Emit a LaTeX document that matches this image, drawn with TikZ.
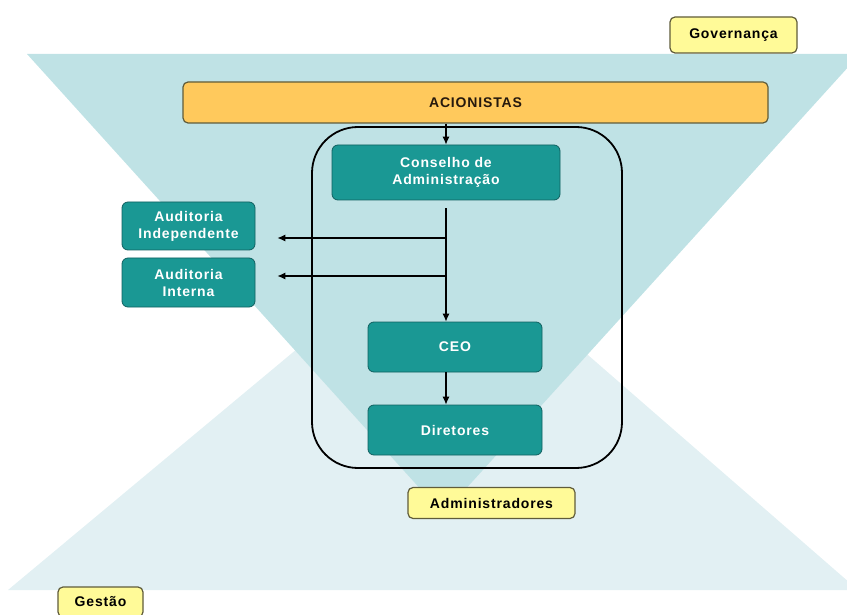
\documentclass[tikz,border=0pt]{standalone}
\usepackage{fontspec}
\setmainfont[LetterSpace=6]{Liberation Sans}
\usepackage{xcolor}
\usepackage{tikz}
\usetikzlibrary{calc, arrows.meta}
\definecolor{govfill}{RGB}{191,226,229}
\definecolor{gesfill}{RGB}{226,240,243}
\definecolor{tealbox}{RGB}{26,152,148}
\definecolor{tealline}{RGB}{16,96,96}
\definecolor{orangebox}{RGB}{255,201,92}
\definecolor{yellowbox}{RGB}{255,250,152}
\definecolor{oliveline}{RGB}{96,92,58}
\tikzset{every node/.append style={font=\bfseries\fontsize{14}{17}\selectfont}}

\begin{document}
\begin{tikzpicture}[x=1pt, y=-1pt, >={Latex[length=8pt, width=7pt]},
    orgbox/.style={draw=tealline, fill=tealbox, text=white, rounded corners=6pt, align=center, inner sep=0pt, line width=0.8pt},
    tagbox/.style={draw=oliveline, fill=yellowbox, text=black, rounded corners=5pt, inner sep=0pt, line width=1.2pt},
    link/.style={->, line width=1.1pt}]
    \useasboundingbox (0,0) rectangle (847,615);
    \fill[gesfill] (8,590) -- (858,590) -- (442,228) -- cycle;
    \fill[govfill] (27,54) -- (860,54) -- (443,514) -- cycle;
    \node[tagbox, minimum width=127pt, minimum height=36pt] (gov) at (733.5,35) {Governança};
    \node[tagbox, fill=orangebox, text=black!80!brown, minimum width=585pt, minimum height=41pt] (acion) at (475.5,102.5) {ACIONISTAS};
    \draw[line width=1.8pt, rounded corners=46pt] (312,127) rectangle (622,468);
    \node[orgbox, minimum width=228pt, minimum height=55pt] (cons) at (446,172.5) {Conselho de\\Administração};
    \node[orgbox, minimum width=133pt, minimum height=48pt] (audind) at (188.5,226) {Auditoria\\Independente};
    \node[orgbox, minimum width=133pt, minimum height=49pt] (audint) at (188.5,282.5) {Auditoria\\Interna};
    \node[orgbox, minimum width=174pt, minimum height=50pt] (ceo) at (455,347) {CEO};
    \node[orgbox, minimum width=174pt, minimum height=50pt] (dir) at (455,430) {Diretores};
    \node[tagbox, minimum width=167pt, minimum height=31pt] (adm) at (491.5,503) {Administradores};
    \node[tagbox, minimum width=85pt, minimum height=30pt] (gest) at (100.5,602) {Gestão};
    \coordinate (j1) at (cons.south |- 0,238);
    \coordinate (j2) at (cons.south |- 0,276);
    \draw[link] (acion.south -| cons) -- (cons);
    \draw[link, shorten <=8pt] (cons.south) -- (cons.south |- ceo.north);
    \draw[link, shorten >=22pt] (j1) -- (j1 -| audind.east);
    \draw[link, shorten >=22pt] (j2) -- (j2 -| audint.east);
    \draw[link] (ceo.south -| j1) -- (dir.north -| j1);
\end{tikzpicture}
\end{document}
